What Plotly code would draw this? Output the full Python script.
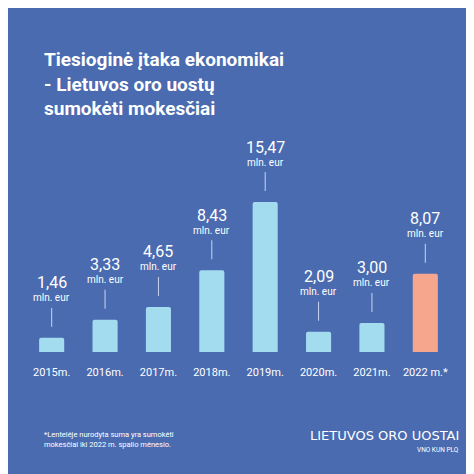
import plotly.graph_objects as go

years = ["2015m.", "2016m.", "2017m.", "2018m.", "2019m.", "2020m.", "2021m.", "2022 m.*"]
values = [1.46, 3.33, 4.65, 8.43, 15.47, 2.09, 3.00, 8.07]
value_labels = ["1,46", "3,33", "4,65", "8,43", "15,47", "2,09", "3,00", "8,07"]
colors = ["#a3dcef"] * 7 + ["#f6a68c"]

BG = "#4a6bb0"
fig = go.Figure(go.Bar(x=years, y=values, marker=dict(color=colors, line_width=0,
                cornerradius=2), width=0.47, hoverinfo="skip"))

for yr, v, lab in zip(years, values, value_labels):
    fig.add_annotation(x=yr, y=v, yshift=55, text=lab, showarrow=False,
                       font=dict(family="Roboto", size=16, color="white"))
    fig.add_annotation(x=yr, y=v, yshift=40, text="mln. eur", showarrow=False,
                       font=dict(family="Roboto", size=10, color="white"))
    fig.add_shape(type="line", xref="x", yref="y", x0=yr, x1=yr, ysizemode="pixel",
                  yanchor=v, y0=11, y1=30, line=dict(color="#c9d5ee", width=1))

fig.add_annotation(xref="paper", yref="paper", x=0.04, y=1.077, xanchor="left", yanchor="top",
                   text="Tiesioginė įtaka ekonomikai<br>- Lietuvos oro uostų<br>sumokėti mokesčiai",
                   showarrow=False, align="left",
                   font=dict(family="Roboto", size=19, color="white", weight="bold"))
fig.add_annotation(xref="paper", yref="paper", x=0.04, y=-0.268, xanchor="left", yanchor="top",
                   text="*Lentelėje nurodyta suma yra sumokėti<br>mokesčiai iki 2022 m. spalio mėnesio.",
                   showarrow=False, align="left",
                   font=dict(family="Roboto", size=7.5, color="white"))
fig.add_annotation(xref="paper", yref="paper", x=1.02, y=-0.262, xanchor="right", yanchor="top",
                   text="LIETUVOS ORO UOSTAI", showarrow=False,
                   font=dict(family="DejaVu Sans", size=13, color="white"))
fig.add_annotation(xref="paper", yref="paper", x=1.02, y=-0.325, xanchor="right", yanchor="top",
                   text="VNO KUN PLQ", showarrow=False,
                   font=dict(family="Roboto", size=6.5, color="white"))

fig.update_layout(
    width=474, height=474, paper_bgcolor=BG, plot_bgcolor=BG,
    margin=dict(l=17, r=30, t=60, b=130), showlegend=False,
    xaxis=dict(showgrid=False, zeroline=False, showline=False, ticks="",
               tickfont=dict(family="Roboto", size=11, color="white"), ticklabelstandoff=12),
    yaxis=dict(range=[0, 29.3], visible=False, showgrid=False),
)
fig.write_html("out.html")
